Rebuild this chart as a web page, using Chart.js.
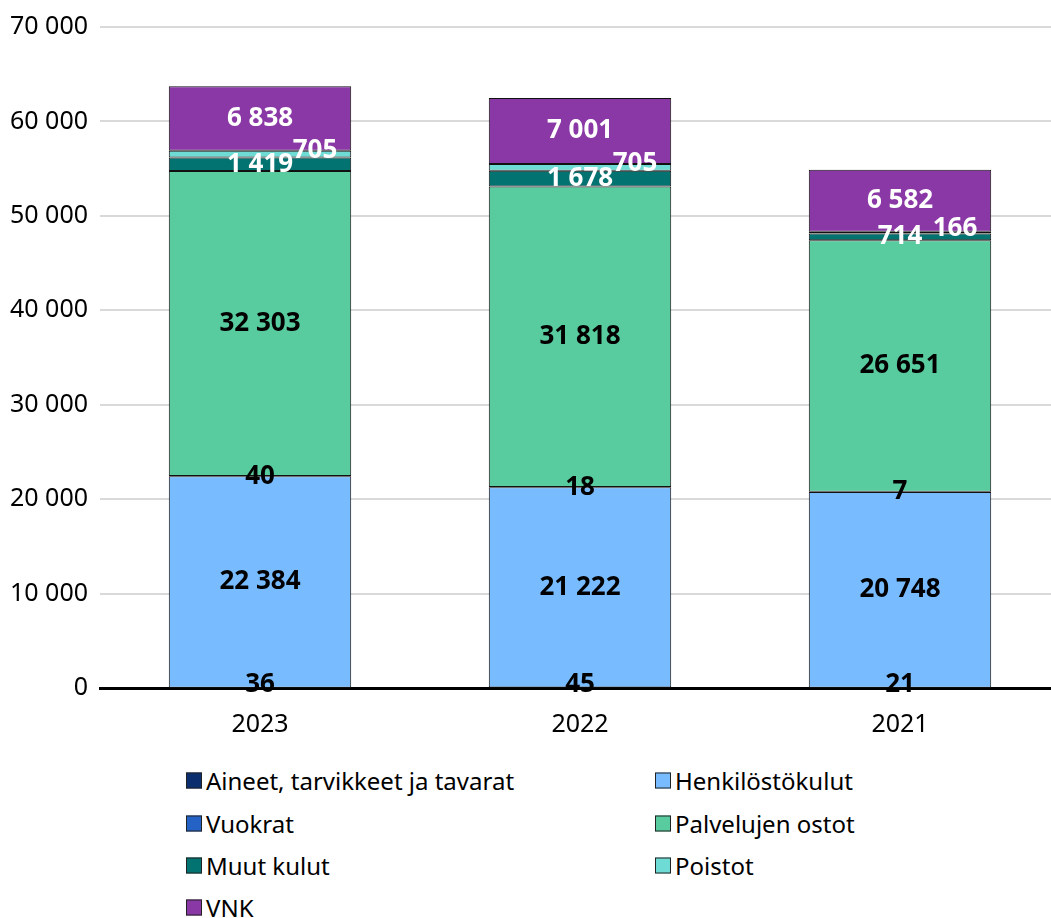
<!DOCTYPE html>
<html>
<head>
<meta charset="utf-8">
<script src="https://cdn.jsdelivr.net/npm/chart.js@4.4.1/dist/chart.umd.min.js"></script>
<style>
  html, body { margin: 0; padding: 0; background: #fff; overflow: hidden; }
  #wrap { position: relative; width: 1060px; height: 918px; }
  #chartBox { position: absolute; left: 0; top: 0; width: 1060px; height: 745px; }
  #legend { position: absolute; left: 0; top: 0; font-family: "Noto Sans", sans-serif; font-size: 24px; color: #000; }
  .item { position: absolute; display: flex; align-items: center; white-space: nowrap; transform: translateY(-50%); }
  .box { width: 16px; height: 16px; border: 1px solid #222; margin-right: 4px; box-sizing: border-box; }
</style>
</head>
<body>
<div id="wrap">
  <div id="chartBox"><canvas id="kulut"></canvas></div>
  <div id="legend"></div>
</div>
<script>
const vuodet = ['2023', '2022', '2021'];
const aineet = [36, 45, 21];
const henkilosto = [22384, 21222, 20748];
const vuokrat = [40, 18, 7];
const palvelut = [32303, 31818, 26651];
const muutKulut = [1419, 1678, 714];
const poistot = [705, 705, 166];
const vnk = [6838, 7001, 6582];

const sarjat = [
  { label: 'Aineet, tarvikkeet ja tavarat', data: aineet, color: '#0b2f6e', text: '#000', dy: -3 },
  { label: 'Henkilöstökulut', data: henkilosto, color: '#78bcff', text: '#000' },
  { label: 'Vuokrat', data: vuokrat, color: '#2462c6', text: '#000' },
  { label: 'Palvelujen ostot', data: palvelut, color: '#58cb9f', text: '#000' },
  { label: 'Muut kulut', data: muutKulut, color: '#027370', text: '#fff' },
  { label: 'Poistot', data: poistot, color: '#6edcd4', text: '#fff', dx: 55, dy: -4 },
  { label: 'VNK', data: vnk, color: '#8a38a6', text: '#fff' }
];

const fmt = v => String(v).replace(/\B(?=(\d{3})+(?!\d))/g, ' ');

// piirretään arvot pylväiden päälle
const arvoLabelit = {
  id: 'arvoLabelit',
  afterDatasetsDraw(chart) {
    const ctx = chart.ctx;
    ctx.save();
    ctx.font = 'bold 26px "Noto Sans", sans-serif';
    ctx.textAlign = 'center';
    ctx.textBaseline = 'middle';
    chart.data.datasets.forEach((ds, i) => {
      const s = sarjat[i];
      chart.getDatasetMeta(i).data.forEach((bar, j) => {
        const y = (bar.y + bar.base) / 2 + (s.dy || 0);
        ctx.fillStyle = s.text;
        ctx.fillText(fmt(ds.data[j]), bar.x + (s.dx || 0), y);
      });
    });
    ctx.restore();
  }
};

new Chart(document.getElementById('kulut'), {
  type: 'bar',
  data: {
    labels: vuodet,
    datasets: sarjat.map(s => ({
      label: s.label,
      data: s.data,
      backgroundColor: s.color,
      borderColor: '#111',
      borderWidth: 1,
      borderSkipped: false,
      barPercentage: 0.57,
      categoryPercentage: 1
    }))
  },
  options: {
    responsive: true,
    maintainAspectRatio: false,
    animation: false,
    layout: { padding: { top: 8, left: 0, right: 0 } },
    plugins: {
      legend: { display: false },
      tooltip: { enabled: false }
    },
    scales: {
      x: {
        stacked: true,
        grid: { display: false },
        border: { display: true, color: '#000', width: 3 },
        ticks: { color: '#000', font: { family: 'Noto Sans', size: 25 }, padding: 14 },
        afterFit: sc => { sc.height = 57; }
      },
      y: {
        stacked: true,
        min: 0,
        max: 70000,
        border: { display: false },
        grid: { color: '#d9d9d9', lineWidth: 2, drawTicks: false },
        ticks: {
          stepSize: 10000,
          color: '#000',
          padding: 12,
          font: { family: 'Noto Sans', size: 25 },
          callback: v => fmt(v)
        },
        afterFit: sc => { sc.width = 100; }
      }
    }
  },
  plugins: [arvoLabelit]
});

// selite kahdessa sarakkeessa
const legend = document.getElementById('legend');
const sarakeX = [186, 655];
const riviY = [780, 823, 865, 907];
sarjat.forEach((s, i) => {
  const el = document.createElement('div');
  el.className = 'item';
  el.style.left = sarakeX[i % 2] + 'px';
  el.style.top = riviY[Math.floor(i / 2)] + 'px';
  el.innerHTML = '<span class="box" style="background:' + s.color + '"></span>' + s.label;
  legend.appendChild(el);
});
</script>
</body>
</html>
